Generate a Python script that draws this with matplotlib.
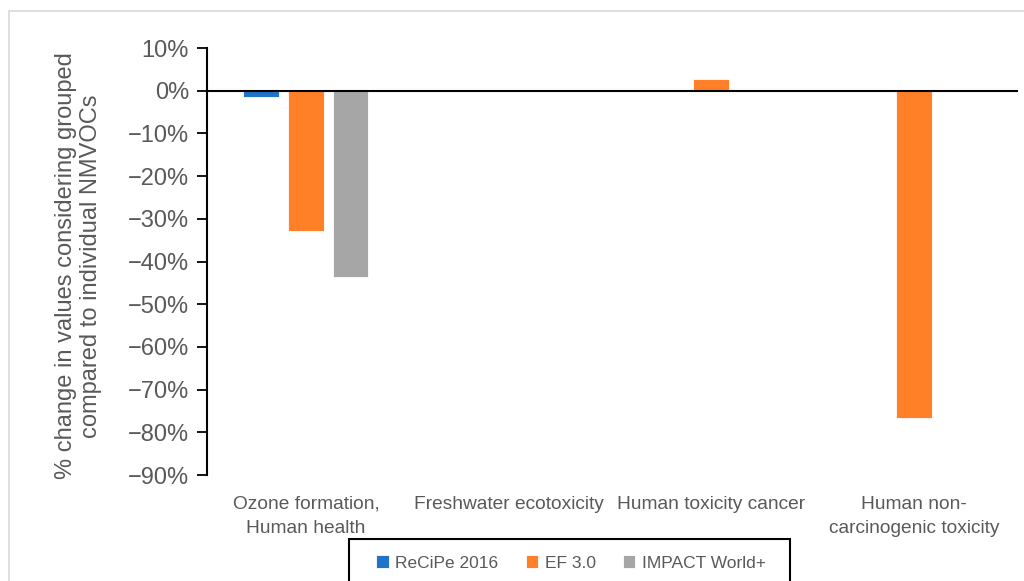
import matplotlib
matplotlib.use("Agg")
import matplotlib.pyplot as plt
import numpy as np
from matplotlib.patches import Rectangle
from matplotlib.ticker import FuncFormatter

plt.rcParams['font.family'] = ['Liberation Sans', 'DejaVu Sans']

categories = ["Ozone formation,\nHuman health", "Freshwater ecotoxicity",
              "Human toxicity cancer", "Human non-\ncarcinogenic toxicity"]
series_names = ["ReCiPe 2016", "EF 3.0", "IMPACT World+"]
recipe = [-0.014, 0.0, 0.001, 0.002]
ef30 = [-0.328, 0.0, 0.028, -0.766]
impact = [-0.437, 0.0, 0.0, 0.0]
colors = ["#1F74C8", "#FF8026", "#A6A6A6"]
yticks = np.arange(-0.9, 0.1001, 0.1)

txt = "#595959"
fig = plt.figure(figsize=(10.24, 5.81), dpi=100)
W, H = 1024, 581
ax = fig.add_axes([207 / W, 1 - 475 / H, (1018 - 207) / W, (475 - 48) / H])

x = np.arange(len(categories))
bw = 0.177
off = 0.22
shift = -0.012
for i, (vals, c, n) in enumerate(zip([recipe, ef30, impact], colors, series_names)):
    ax.bar(x + (i - 1) * off + shift, vals, bw, color=c, label=n,
           edgecolor="white", linewidth=0.6, zorder=2)

ax.set_xlim(-0.5, len(categories) - 0.5)
ax.set_ylim(-0.9, 0.1)
ax.axhline(0, color="black", linewidth=1.5, zorder=3)
ax.set_yticks(yticks)
ax.yaxis.set_major_formatter(FuncFormatter(lambda v, p: f"{round(v*100):.0f}%".replace("-", "\u2212")))
ax.tick_params(axis="y", direction="out", length=7, width=1.3, colors="black",
               labelcolor=txt, labelsize=17, pad=6)
ax.set_xticks(x + shift)
ax.set_xticklabels(categories, fontsize=13.8, color=txt, linespacing=1.55)
ax.tick_params(axis="x", length=0, pad=15)
for s in ["top", "right", "bottom"]:
    ax.spines[s].set_visible(False)
ax.spines["left"].set_linewidth(1.5)
ax.set_ylabel("% change in values considering grouped\ncompared to individual NMVOCs",
              fontsize=17, color=txt, linespacing=1.15)
ax.yaxis.set_label_coords(-0.130, 0.49)

# outer chart border
fig.patches.append(Rectangle((9 / W, -0.05), 1.1, 1 - 11 / H + 0.05,
                             transform=fig.transFigure, fill=False,
                             edgecolor="#D9D9D9", linewidth=1.2))
# legend box
fig.patches.append(Rectangle((349 / W, -0.05), (790 - 349) / W, 1 - 539 / H + 0.05,
                             transform=fig.transFigure, fill=False,
                             edgecolor="black", linewidth=1.5))
leg = fig.legend(loc="center", bbox_to_anchor=(571 / W, 1 - 563 / H), ncol=3,
                 frameon=False, fontsize=12.5, handlelength=0.7, handleheight=0.7,
                 handletextpad=0.4, columnspacing=1.55)
for t in leg.get_texts():
    t.set_color(txt)

fig.savefig("out.png", dpi=100)
